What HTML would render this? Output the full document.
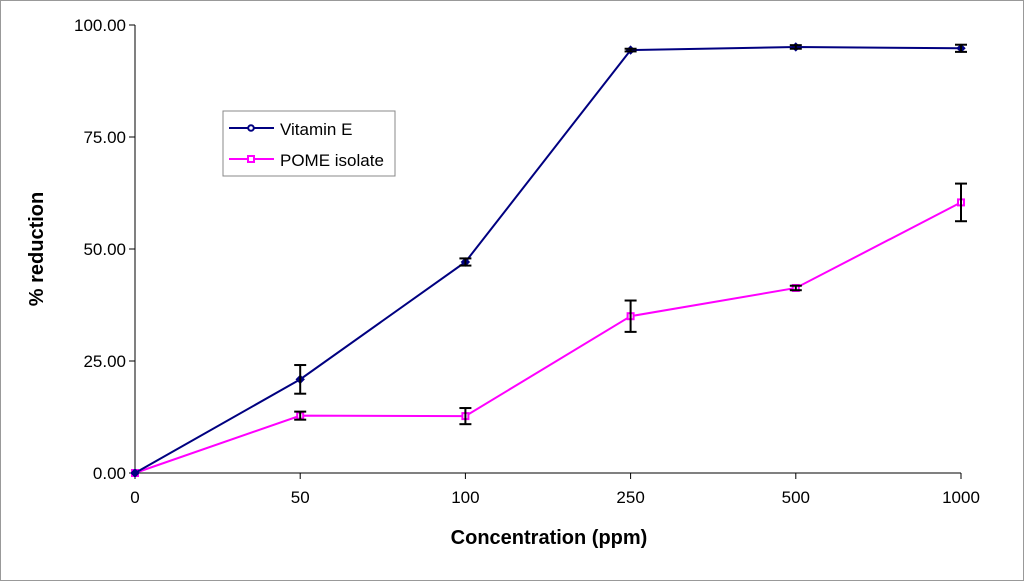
<!DOCTYPE html>
<html><head><meta charset="utf-8"><style>
html,body{margin:0;padding:0;background:#fff;}
svg{display:block;font-family:"Liberation Sans",Arial,sans-serif;}
</style></head><body>
<svg id="chart" width="1024" height="581" viewBox="0 0 1024 581">
<rect x="0.5" y="0.5" width="1023" height="580" fill="#fff" stroke="#999"/>
<g id="axes"></g>
<g id="series"></g>
<g>
<rect x="223" y="111" width="172" height="65" fill="#fff" stroke="#888"/>
<line x1="229" y1="128" x2="274" y2="128" stroke="#000080" stroke-width="2"/>
<circle cx="251" cy="128" r="2.8" fill="#fff" stroke="#000080" stroke-width="2"/>
<text x="280" y="135" font-size="17">Vitamin E</text>
<line x1="229" y1="159" x2="274" y2="159" stroke="#ff00ff" stroke-width="2"/>
<rect x="248" y="156" width="6" height="6" fill="#fff" stroke="#ff00ff" stroke-width="2"/>
<text x="280" y="166" font-size="17">POME isolate</text>
</g>
<text x="549" y="544" font-size="20" font-weight="bold" text-anchor="middle">Concentration (ppm)</text>
<text transform="translate(43,249) rotate(-90)" font-size="20" font-weight="bold" text-anchor="middle">% reduction</text>
</svg>
<script>
const categories = ["0","50","100","250","500","1000"];
const vitaminE = [0, 20.9, 47.1, 94.4, 95.1, 94.8];
const vitaminEErr = [0, 3.2, 0.8, 0.3, 0.4, 0.8];
const pome = [0, 12.8, 12.7, 35.0, 41.3, 60.4];
const pomeErr = [0, 0.9, 1.8, 3.5, 0.5, 4.2];
const yTicks = [0, 25, 50, 75, 100];

const NS = "http://www.w3.org/2000/svg";
const x0 = 135, x1 = 961, yb = 473, yt = 25;
function xPos(i){ return x0 + i*(x1-x0)/(categories.length-1); }
function yPos(v){ return yb - v*(yb-yt)/100; }
function mk(tag, attrs, parent){ const e=document.createElementNS(NS,tag); for(const k in attrs) e.setAttribute(k,attrs[k]); parent.appendChild(e); return e; }
const axes = document.getElementById("axes");
const ser = document.getElementById("series");

const yAxis = mk("line",{x1:x0,y1:yt,x2:x0,y2:yb,stroke:"#000","stroke-width":1},axes);


const xAxis = mk("line",{x1:x0,y1:yb,x2:x1,y2:yb,stroke:"#000","stroke-width":1},axes);


yTicks.forEach(v=>{
  const y=yPos(v);
  mk("line",{x1:x0-6,y1:y,x2:x0,y2:y,stroke:"#000"},axes);
  const t=mk("text",{x:x0-9,y:y+6,"font-size":17,"text-anchor":"end"},axes);
  t.textContent=v.toFixed(2);
  
  
});
categories.forEach((c,i)=>{
  const x=xPos(i);
  mk("line",{x1:x,y1:yb,x2:x,y2:yb+6,stroke:"#000"},axes);
  const t=mk("text",{x:x,y:yb+30,"font-size":17,"text-anchor":"middle"},axes);
  t.textContent=c;
  
  
});

function drawSeries(vals, errs, color, shape, name){
  const pts = vals.map((v,i)=>xPos(i)+","+yPos(v)).join(" ");
  const pl = mk("polyline",{points:pts,fill:"none",stroke:color,"stroke-width":2},ser);
  
  
  vals.forEach((v,i)=>{
    const x=xPos(i), y=yPos(v);
    if(shape==="diamond"){
      const m=mk("path",{d:`M${x} ${y-4}L${x+4} ${y}L${x} ${y+4}L${x-4} ${y}Z`,fill:color,stroke:color},ser);
      
      
    } else {
      const m=mk("rect",{x:x-3,y:y-3,width:6,height:6,fill:"#fff",stroke:color,"stroke-width":2},ser);
      
      
    }
    if(errs[i]>0){
      const ya=yPos(v+errs[i]), yb2=yPos(v-errs[i]);
      const g=mk("g",{stroke:"#000","stroke-width":2},ser);
      
      
      mk("line",{x1:x,y1:ya,x2:x,y2:yb2},g);
      mk("line",{x1:x-6,y1:ya,x2:x+6,y2:ya},g);
      mk("line",{x1:x-6,y1:yb2,x2:x+6,y2:yb2},g);
    }
  });
}
drawSeries(pome, pomeErr, "#ff00ff", "square", "pome");
drawSeries(vitaminE, vitaminEErr, "#000080", "diamond", "vitamin-e");
</script>
</body></html>
